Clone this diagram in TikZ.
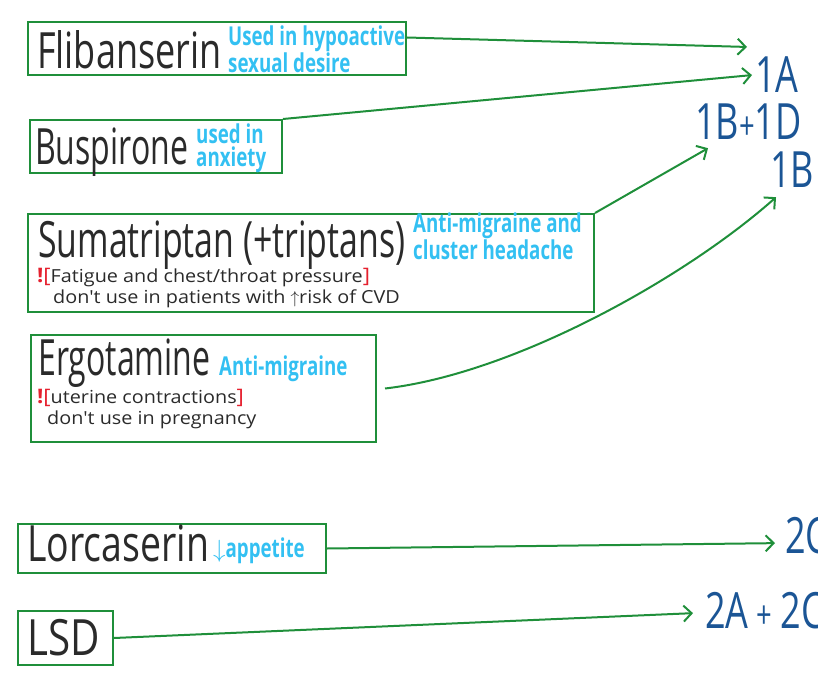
\documentclass[tikz,border=0pt]{standalone}
\usepackage{fontspec}
\setmainfont{Open Sans}
\newfontfamily\hand[FakeStretch=0.72]{Open Sans}
\newfontfamily\sidefont[FakeStretch=1.1]{Open Sans}
\usetikzlibrary{arrows.meta}
\definecolor{boxgreen}{HTML}{1F8F3A}
\definecolor{recblue}{HTML}{1B5595}
\definecolor{noteblue}{HTML}{33C0F2}
\definecolor{warnred}{HTML}{E5202E}
\definecolor{ink}{HTML}{2A2A2A}
\newcommand{\squeeze}[2]{\scalebox{#1}[1]{#2}}
\newcommand{\warnopen}{{\color{warnred}\fontsize{20}{20}\selectfont\textbf{!}[}}
\newcommand{\warnclose}{{\color{warnred}\fontsize{20}{20}\selectfont]}}
\newcommand{\smallplus}{{\fontsize{38}{38}\selectfont+}}
\begin{document}
\begin{tikzpicture}[x=1pt,y=-1pt,
    drugbox/.style={draw=boxgreen,line width=2pt,anchor=north west,inner sep=0pt},
    drugname/.style={anchor=base west,inner sep=0pt,text=ink,font=\hand\fontsize{50}{50}\selectfont},
    usenote/.style={anchor=north west,inner sep=0pt,text=noteblue,align=left,font=\hand\bfseries\fontsize{26}{23}\selectfont},
    sidenote/.style={anchor=base west,inner sep=0pt,text=ink,font=\sidefont\fontsize{18}{20}\selectfont},
    receptor/.style={anchor=base west,inner sep=0pt,text=recblue,font=\hand\fontsize{50}{50}\selectfont},
    link/.style={draw=boxgreen,line width=2pt,-{Straight Barb[length=8pt,width=16pt,line width=2pt]}}]
    \useasboundingbox (0,0) rectangle (818,676);

    \node[drugbox,minimum width=378pt,minimum height=53pt] (flib) at (27,21) {};
    \node[drugname] (flibname) at (37,69) {Flibanserin};
    \node[usenote] (flibuse) at (228,26) {Used in hypoactive\\sexual desire};

    \node[drugbox,minimum width=252pt,minimum height=53pt] (busp) at (29,119) {};
    \node[drugname] (buspname) at (35,165) {\squeeze{0.89}{Buspirone}};
    \node[usenote] (buspuse) at (196,124) {used in\\anxiety};

    \node[drugbox,minimum width=566pt,minimum height=98pt] (suma) at (27,213) {};
    \node[drugname] (sumaname) at (38,257) {\squeeze{0.94}{Sumatriptan (+triptans)}};
    \node[usenote] (sumause) at (413,213) {Anti-migraine and\\cluster headache};
    \node[sidenote] (sumawarn) at (37,282) {\warnopen Fatigue and chest/throat pressure\warnclose};
    \node[sidenote] (sumanote) at (53,303) {don't use in patients with $\uparrow$risk of CVD};

    \node[drugbox,minimum width=345pt,minimum height=107pt] (ergo) at (30,334) {};
    \node[drugname] (ergoname) at (38,375) {\squeeze{0.89}{Ergotamine}};
    \node[usenote,anchor=base west] (ergouse) at (219,375) {Anti-migraine};
    \node[sidenote] (ergowarn) at (37,403) {\warnopen uterine contractions\warnclose};
    \node[sidenote] (ergonote) at (47,424) {don't use in pregnancy};

    \node[drugbox,minimum width=308pt,minimum height=49pt] (lorc) at (17,523) {};
    \node[drugname] (lorcname) at (27,561) {\squeeze{1.04}{Lorcaserin}};
    \node[usenote,anchor=base west] (lorcuse) at (213,557) {$\downarrow$appetite};

    \node[drugbox,minimum width=95pt,minimum height=54pt] (lsd) at (17,610) {};
    \node[drugname] (lsdname) at (27,655) {\squeeze{1.12}{LSD}};

    \node[receptor] (t1A) at (755,93) {1A};
    \node[receptor] (t1BD) at (695,140) {1B\smallplus 1D};
    \node[receptor] (t1B) at (770,188) {1B};
    \node[receptor] (t2C) at (785,553) {2C};
    \node[receptor] (t2AC) at (705,628) {2A\,\smallplus\,2C};

    \draw[link] ([yshift=11pt]flib.east) -- ([xshift=-8pt,yshift=10pt]t1A.north west);
    \draw[link] (busp.north east) -- ([xshift=-3pt]t1A.west);
    \draw[link] (suma.north east) -- ([xshift=13pt,yshift=-8pt]t1BD.south west);
    \draw[link] ([xshift=8pt]ergo.east) .. controls +(130,-15) and +(-90,80) .. ([xshift=6pt,yshift=-9pt]t1B.south west);
    \draw[link] (lorc.east) -- ([xshift=-10pt,yshift=-8pt]t2C.west);
    \draw[link] (lsd.east) -- ([xshift=-12pt,yshift=-3pt]t2AC.west);
\end{tikzpicture}
\end{document}
